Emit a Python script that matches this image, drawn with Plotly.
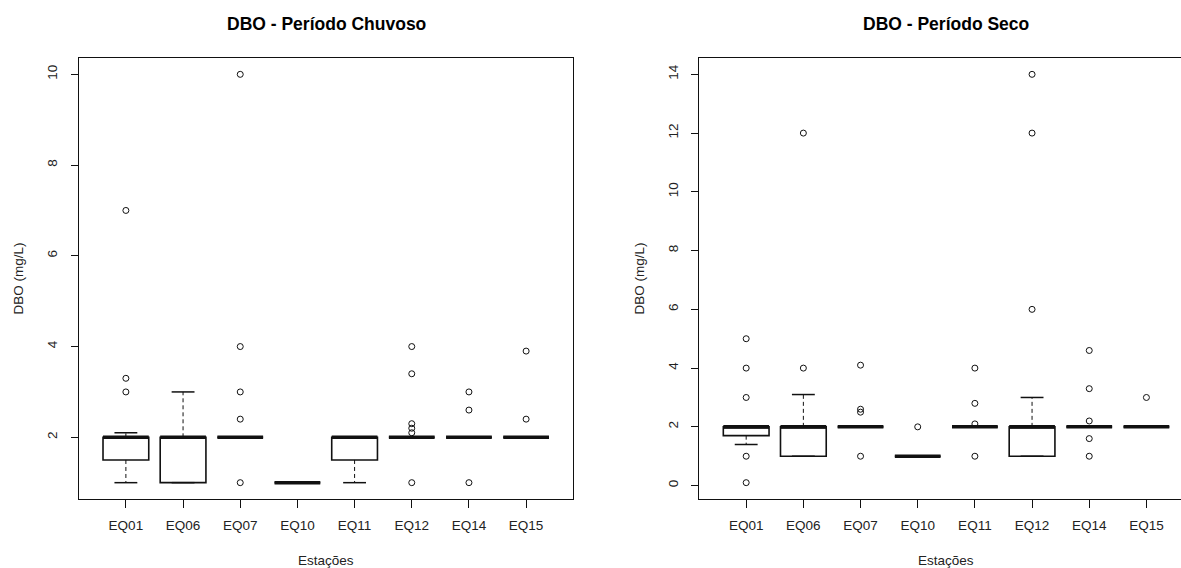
import plotly.graph_objects as go

# ---- data ---------------------------------------------------------------
stations = ["EQ01", "EQ06", "EQ07", "EQ10", "EQ11", "EQ12", "EQ14", "EQ15"]

# Rainy period (Período Chuvoso): box statistics per station
rain_q1 = [1.5, 1.0, 2.0, 1.0, 1.5, 2.0, 2.0, 2.0]
rain_med = [2.0, 2.0, 2.0, 1.0, 2.0, 2.0, 2.0, 2.0]
rain_q3 = [2.0, 2.0, 2.0, 1.0, 2.0, 2.0, 2.0, 2.0]
rain_wlo = [1.0, 1.0, 2.0, 1.0, 1.0, 2.0, 2.0, 2.0]
rain_whi = [2.1, 3.0, 2.0, 1.0, 2.0, 2.0, 2.0, 2.0]
rain_out = [
    [3.0, 3.3, 7.0],
    [],
    [1.0, 2.4, 3.0, 4.0, 10.0],
    [],
    [],
    [1.0, 2.1, 2.2, 2.3, 3.4, 4.0],
    [1.0, 2.6, 3.0],
    [2.4, 3.9],
]

# Dry period (Período Seco): box statistics per station
dry_q1 = [1.7, 1.0, 2.0, 1.0, 2.0, 1.0, 2.0, 2.0]
dry_med = [2.0, 2.0, 2.0, 1.0, 2.0, 2.0, 2.0, 2.0]
dry_q3 = [2.0, 2.0, 2.0, 1.0, 2.0, 2.0, 2.0, 2.0]
dry_wlo = [1.4, 1.0, 2.0, 1.0, 2.0, 1.0, 2.0, 2.0]
dry_whi = [2.0, 3.1, 2.0, 1.0, 2.0, 3.0, 2.0, 2.0]
dry_out = [
    [0.1, 1.0, 3.0, 4.0, 5.0],
    [4.0, 12.0],
    [1.0, 2.5, 2.6, 4.1],
    [2.0],
    [1.0, 2.1, 2.8, 4.0],
    [6.0, 12.0, 14.0],
    [1.0, 1.6, 2.2, 3.3, 4.6],
    [3.0],
]

titles = ["DBO - Período Chuvoso", "DBO - Período Seco"]
x_title = "Estações"
y_title = "DBO (mg/L)"

# ---- styling ------------------------------------------------------------
FONT = "Liberation Sans, Arimo, Arial, sans-serif"
INK = "#111111"
BOX_W = 0.8          # box width in category units (R default boxwex)
STAPLE_W = 0.4       # whisker cap width
W, H = 1181, 568
TOP, BOTTOM = 58, 499
PX_PER_UNIT = 494 / 8.64   # horizontal scale shared by both panels
LEFT_X0, RIGHT_X0 = 79, 699.3

positions = list(range(1, len(stations) + 1))

fig = go.Figure()


def add_panel(q1, med, q3, wlo, whi, outs, xa, ya):
    # box bodies
    fig.add_trace(go.Box(
        x=positions, q1=q1, median=med, q3=q3,
        lowerfence=q1, upperfence=q3,
        width=BOX_W, whiskerwidth=0, boxpoints=False,
        fillcolor="rgba(255,255,255,0)",
        line=dict(color=INK, width=1.6),
        xaxis=xa, yaxis=ya, showlegend=False, hoverinfo="skip",
    ))
    # dashed whiskers
    wx, wy = [], []
    for p, a, b, c, d in zip(positions, q1, q3, wlo, whi):
        wx += [p, p, None, p, p, None]
        wy += [b, d, None, a, c, None]
    fig.add_trace(go.Scatter(
        x=wx, y=wy, mode="lines",
        line=dict(color=INK, width=1, dash="4px,3px"),
        xaxis=xa, yaxis=ya, showlegend=False, hoverinfo="skip",
    ))
    # whisker caps
    sx, sy = [], []
    for p, c, d in zip(positions, wlo, whi):
        for v in (c, d):
            sx += [p - STAPLE_W / 2, p + STAPLE_W / 2, None]
            sy += [v, v, None]
    fig.add_trace(go.Scatter(
        x=sx, y=sy, mode="lines", line=dict(color=INK, width=1.5),
        xaxis=xa, yaxis=ya, showlegend=False, hoverinfo="skip",
    ))
    # thick medians
    mx, my = [], []
    for p, m in zip(positions, med):
        mx += [p - BOX_W / 2, p + BOX_W / 2, None]
        my += [m, m, None]
    fig.add_trace(go.Scatter(
        x=mx, y=my, mode="lines", line=dict(color=INK, width=3.5),
        xaxis=xa, yaxis=ya, showlegend=False, hoverinfo="skip",
    ))
    # outliers
    ox = [p for p, vals in zip(positions, outs) for _ in vals]
    oy = [v for vals in outs for v in vals]
    fig.add_trace(go.Scatter(
        x=ox, y=oy, mode="markers",
        marker=dict(symbol="circle-open", size=6, color=INK,
                    line=dict(width=1, color=INK)),
        xaxis=xa, yaxis=ya, showlegend=False, hoverinfo="skip",
    ))


def padded_range(*groups):
    vals = [v for g in groups for row in g for v in (row if isinstance(row, list) else [row])]
    lo, hi = min(vals), max(vals)
    pad = (hi - lo) * 0.04
    return [lo - pad, hi + pad]


add_panel(rain_q1, rain_med, rain_q3, rain_wlo, rain_whi, rain_out, "x", "y")
add_panel(dry_q1, dry_med, dry_q3, dry_wlo, dry_whi, dry_out, "x2", "y2")

x_lo = 1 - 0.5 - 0.04 * len(stations)
x_hi = len(stations) + 0.5 + 0.04 * len(stations)
right_hi = x_lo + (W - RIGHT_X0) / PX_PER_UNIT

tickfont = dict(family=FONT, size=13.5, color="#222222")
common_x = dict(
    tickmode="array", tickvals=positions, ticktext=stations,
    ticks="outside", ticklen=8, tickwidth=1.2, tickcolor=INK,
    showline=True, linecolor=INK, linewidth=1.3, mirror=True,
    showgrid=False, zeroline=False, tickfont=tickfont,
    ticklabelstandoff=6,
)
common_y = dict(
    dtick=2, ticks="outside", ticklen=7, tickwidth=1.2, tickcolor=INK,
    showline=True, linecolor=INK, linewidth=1.3,
    showgrid=False, zeroline=False, tickfont=tickfont, tickangle=-90,
    ticklabelstandoff=8,
)

fig.update_layout(
    width=W, height=H,
    margin=dict(l=0, r=0, t=TOP, b=H - BOTTOM, autoexpand=False),
    paper_bgcolor="white", plot_bgcolor="white",
    xaxis=dict(common_x, domain=[LEFT_X0 / W, (LEFT_X0 + 494) / W],
               range=[x_lo, x_hi], anchor="y"),
    yaxis=dict(common_y, mirror=True,
               range=padded_range(rain_q1, rain_wlo, rain_whi, rain_out), anchor="x"),
    xaxis2=dict(common_x, domain=[RIGHT_X0 / W, 1.0],
                range=[x_lo, right_hi], anchor="y2"),
    yaxis2=dict(common_y, mirror=False,
                range=padded_range(dry_q1, dry_wlo, dry_whi, dry_out), anchor="x2"),
    showlegend=False,
)

label_font = dict(family=FONT, size=13.5, color="#222222")
plot_h = BOTTOM - TOP
center = (1 + len(stations)) / 2
for xr, ylab_px, title in (("x", 18, titles[0]), ("x2", 639, titles[1])):
    fig.add_annotation(x=center, xref=xr, y=(BOTTOM - 24) / plot_h, yref="paper",
                       xanchor="center", yanchor="middle",
                       text=f"<b>{title}</b>", showarrow=False,
                       font=dict(family=FONT, size=17.5, color="black"))
    fig.add_annotation(x=center, xref=xr, y=(BOTTOM - 560) / plot_h, yref="paper",
                       xanchor="center", yanchor="middle",
                       text=x_title, showarrow=False, font=label_font)
    fig.add_annotation(x=ylab_px / W, xref="paper", y=0.5, yref="paper",
                       xanchor="center", yanchor="middle",
                       text=y_title, textangle=-90, showarrow=False, font=label_font)

fig.write_html("out.html")
